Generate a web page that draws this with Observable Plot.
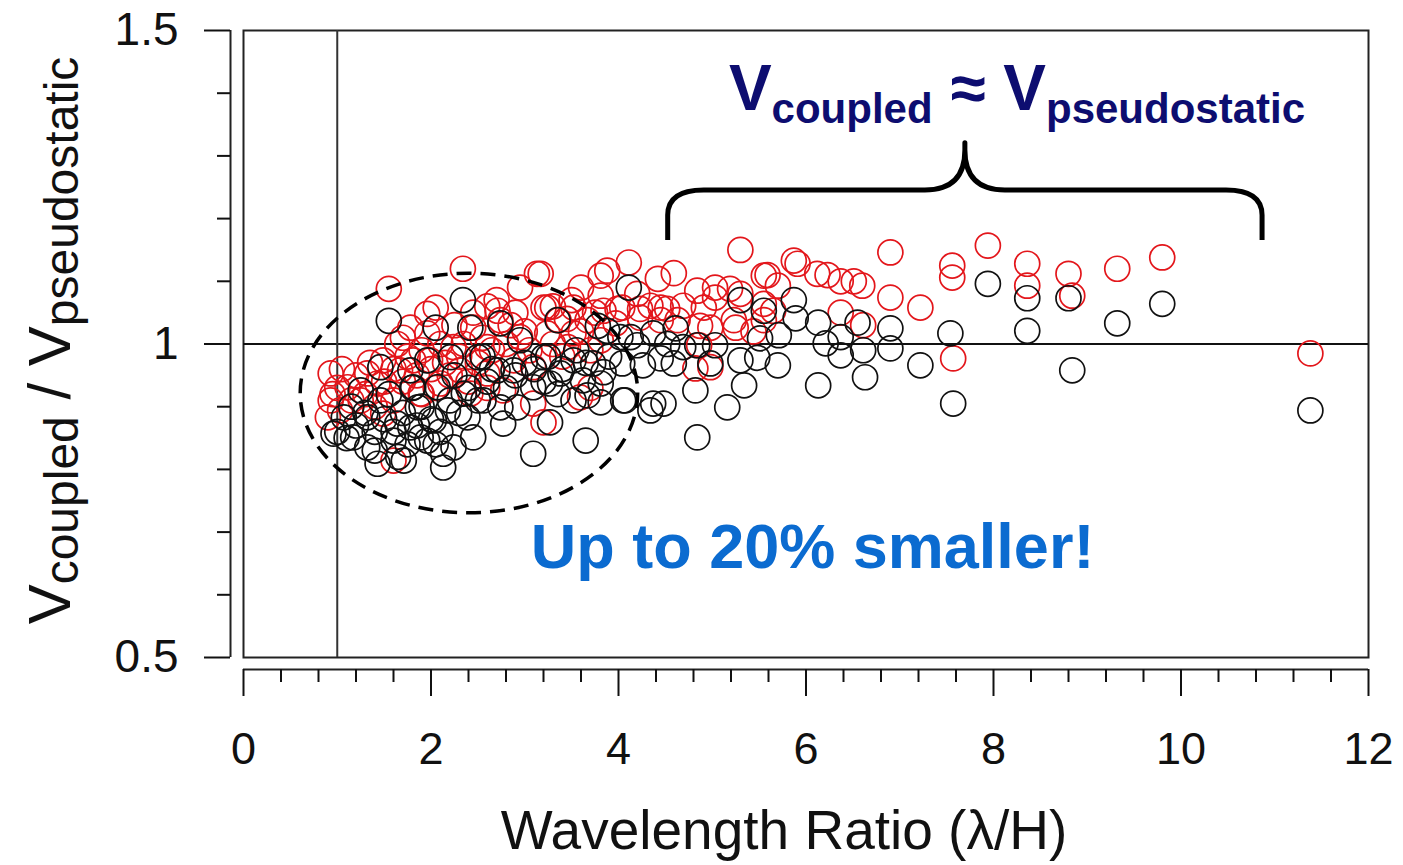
<!DOCTYPE html>
<html><head><meta charset="utf-8">
<script src="https://cdn.jsdelivr.net/npm/d3@7"></script>
<script src="https://cdn.jsdelivr.net/npm/@observablehq/plot@0.6"></script>
<style>body{margin:0;background:#fff} svg{display:block}</style>
</head><body><div id="chart"></div>
<script>
// ---------- data ----------
const redPoints = [
[0.93,0.953],[0.93,0.91],[1.11,0.931],[1.32,0.953],[1.49,0.974],[1.43,0.937],[1.25,0.91],[1.03,0.894],[1.64,1.0],[1.81,0.974],[1.78,1.026],[1.96,1.048],[1.67,0.958],[1.60,0.91],[1.49,0.889],[0.90,0.883],[1.60,0.814],[1.89,0.921],[1.55,1.088],
[2.34,1.12],[2.95,1.09],[3.13,1.112],[3.20,1.058],[2.05,1.058],[2.71,1.053],[2.74,1.038],[2.45,1.026],[2.95,1.011],[1.96,1.017],[2.24,0.995],[2.60,0.995],[2.88,0.974],[1.99,0.974],[2.31,0.958],[2.60,0.953],[3.09,0.963],[2.10,0.937],[2.42,0.921],[3.09,0.905],[3.20,0.875],[2.77,0.926],
[4.11,1.13],[3.88,1.117],[3.81,1.109],[3.17,1.112],[4.42,1.104],[4.20,1.08],[3.81,1.077],[3.52,1.058],[3.24,1.058],[4.04,1.058],[4.23,1.056],[4.45,1.038],[3.67,1.038],[3.36,1.038],[3.24,1.017],[3.52,1.017],[3.81,1.006],[3.70,0.99],[3.46,0.995],[3.97,1.033],[3.59,0.915],[3.70,0.93],
[4.59,1.113],[4.84,1.085],[5.03,1.09],[5.30,1.15],[5.30,1.08],[5.59,1.11],[5.70,1.093],[5.87,1.133],[5.91,1.128],[6.12,1.112],[6.23,1.11],[6.37,1.10],[6.51,1.10],[6.60,1.093],[6.90,1.146],[6.90,1.074],[7.22,1.058],[7.56,1.125],[7.56,1.106],[7.57,0.977],[4.69,1.061],[4.91,1.058],[5.03,1.074],[5.55,1.064],[5.65,1.053],[6.37,1.05],[6.61,1.03],[4.98,1.026],[5.25,1.026],[5.44,1.02],[4.82,0.961],[4.86,0.998],[4.45,1.058],
[4.34,1.061],[4.52,1.056],[5.19,1.088],[3.84,1.053],[3.99,1.056],[4.23,1.042],[4.63,1.038],[4.87,1.029],[5.23,1.038],[5.55,1.109],[4.98,0.963],[5.55,1.038],
[7.94,1.157],[8.36,1.128],[8.36,1.093],[8.80,1.112],[8.84,1.077],[9.32,1.12],[9.80,1.138],[11.38,0.985],
[1.6,0.96],[1.7,0.94],[1.75,0.98],[1.85,0.95],[1.9,0.99],[2.0,0.96],[2.05,0.93],[2.15,0.97],[2.2,0.95],[2.3,0.98],[2.35,1.0],[2.5,0.97],[2.55,1.01],[2.65,0.99],[2.8,1.0],[2.85,1.03],[3.0,1.02],[3.05,0.99],[3.3,1.0],[3.4,0.98],[3.45,1.04],[3.6,1.02],[3.75,1.05],[1.2,0.95],[1.3,0.92],[1.35,0.97],[1.4,0.9],[1.5,0.94],[1.15,0.91],[1.0,0.93],[0.95,0.92],[1.05,0.96],[1.9,0.92],[2.4,0.94],[2.6,0.93],[2.25,1.03],[2.45,1.05],[2.6,1.06],[2.7,1.07],[2.9,1.05],[3.5,1.07],[3.3,1.06],[3.6,1.09],[2.1,1.0],[1.7,1.01]
];
const blackPoints = [
[1.55,1.037],[1.46,0.963],[1.25,0.926],[1.46,0.91],[1.78,0.958],[1.81,0.931],[1.07,0.883],[0.96,0.857],[1.17,0.851],[1.32,0.835],[1.43,0.809],[1.64,0.873],[1.78,0.867],[1.60,0.846],[1.89,0.851],[1.71,0.814],[1.32,0.883],[1.86,0.899],
[2.34,1.07],[2.05,1.026],[2.42,1.026],[2.74,1.033],[2.95,1.006],[1.96,0.974],[2.21,0.979],[2.50,0.979],[2.71,0.958],[2.88,0.958],[3.09,0.931],[2.07,0.931],[2.35,0.921],[2.56,0.91],[2.74,0.899],[2.92,0.899],[2.18,0.894],[2.39,0.883],[2.03,0.878],[2.77,0.873],[2.45,0.851],[2.13,0.825],[1.96,0.846],[2.13,0.803],[3.09,0.825],[2.24,0.835],
[4.11,1.09],[3.35,1.038],[3.78,1.029],[4.13,1.011],[4.37,1.017],[4.45,0.977],[4.04,0.969],[4.26,0.966],[3.20,0.979],[3.52,0.974],[3.73,0.969],[3.38,0.953],[3.62,0.942],[3.81,0.937],[3.27,0.937],[3.52,0.91],[3.67,0.918],[4.05,0.91],[4.34,0.894],[3.27,0.875],[3.65,0.846],
[3.88,1.021],[4.02,1.011],[4.20,0.998],[4.61,1.025],[4.69,0.995],[3.84,0.955],[4.84,0.998],[5.03,0.998],[4.98,0.969],[5.30,1.07],[5.55,1.053],[5.87,1.07],[5.71,1.014],[5.48,0.978],[5.30,0.974],[5.34,0.934],[4.82,0.926],[5.16,0.899],[4.84,0.851],[4.07,0.910],[4.37,0.905],[3.81,0.907],
[5.89,1.041],[6.13,1.034],[6.55,1.034],[6.90,1.025],[7.54,1.017],[6.37,1.011],[6.21,1.001],[6.61,0.99],[6.90,0.993],[6.37,0.982],[7.22,0.966],[6.63,0.947],[6.13,0.934],[7.57,0.905],[4.52,1.0],[5.51,1.009],[5.70,0.966],[4.48,0.905],[4.59,0.969],
[7.94,1.096],[8.36,1.073],[8.36,1.021],[8.80,1.073],[8.84,0.958],[9.32,1.033],[9.80,1.064],[11.38,0.894],
[1.5,0.88],[1.6,0.86],[1.7,0.89],[1.75,0.84],[1.85,0.87],[1.9,0.9],[2.0,0.88],[2.1,0.86],[2.2,0.91],[2.3,0.89],[2.4,0.93],[2.5,0.91],[2.6,0.94],[2.65,0.96],[2.8,0.93],[2.9,0.95],[3.0,0.97],[3.1,0.96],[3.25,0.98],[3.4,0.96],[3.55,0.99],[3.65,0.97],[3.9,0.98],[1.15,0.9],[1.2,0.87],[1.3,0.89],[1.1,0.85],[1.0,0.86],[1.4,0.86],[1.55,0.92],[1.8,0.93],[2.25,0.95],[2.55,0.98],[3.2,0.94],[3.35,0.92],[1.4,0.83],[1.65,0.82],[2.05,0.84]
];
const xMajorTicks = [0, 2, 4, 6, 8, 10, 12];
const xMinorTicks = [0.4,0.8,1.2,1.6,2.4,2.8,3.2,3.6,4.4,4.8,5.2,5.6,6.4,6.8,7.2,7.6,8.4,8.8,9.2,9.6,10.4,10.8,11.2,11.6];
const yMajorTicks = [0.5, 1, 1.5];
const yMinorTicks = [0.6, 0.7, 0.8, 0.9, 1.1, 1.2, 1.3, 1.4];
const xTitle = "Wavelength Ratio (λ/H)";
const smallerNote = ["Up to 20% smaller!"];
// annotation geometry (data units)
const ellipseSpec = {cx: 2.41, cy: 0.921, rx: 1.80, ry: 0.191};
const braceSpec = {x1: 4.53, xTip: 7.70, x2: 10.87, yEnd: 1.165, yMid: 1.245, yTip: 1.32};
const topNote = {x: 8.256, y: 1.372};
const notePos = {x: 6.07, y: 0.675};

const FONT = "'Liberation Sans', Arial, Helvetica, sans-serif";

function ellipseMark(index, scales) {
  const {x, y} = scales;
  const cx = x(ellipseSpec.cx), cy = y(ellipseSpec.cy);
  const rx = x(ellipseSpec.cx + ellipseSpec.rx) - cx;
  const ry = cy - y(ellipseSpec.cy + ellipseSpec.ry);
  return d3.create("svg:ellipse")
    .attr("cx", cx).attr("cy", cy).attr("rx", rx).attr("ry", ry)
    .attr("fill", "none").attr("stroke", "#000").attr("stroke-width", 3.5)
    .attr("stroke-dasharray", "15,9").node();
}

function braceMark(index, scales) {
  const {x, y} = scales;
  const L = x(braceSpec.x1), T = x(braceSpec.xTip), R = x(braceSpec.x2);
  const yb = y(braceSpec.yEnd), ym = y(braceSpec.yMid), yt = y(braceSpec.yTip);
  const r = 36, t = 40;
  const d = `M${L},${yb} L${L},${ym + r * 0.7} Q${L},${ym} ${L + r},${ym} L${T - t},${ym} Q${T},${ym} ${T},${ym - t} L${T},${yt}` +
            ` L${T},${ym - t} Q${T},${ym} ${T + t},${ym} L${R - r},${ym} Q${R},${ym} ${R},${ym + r * 0.7} L${R},${yb}`;
  return d3.create("svg:path").attr("d", d).attr("fill", "none")
    .attr("stroke", "#000").attr("stroke-width", 5).attr("stroke-linejoin", "round").node();
}

function topNoteMark(index, scales) {
  const {x, y} = scales;
  const t = d3.create("svg:text")
    .attr("x", x(topNote.x)).attr("y", y(topNote.y))
    .attr("text-anchor", "middle").attr("fill", "#0d0d70")
    .attr("font-family", FONT).attr("font-weight", "bold");
  t.append("tspan").attr("font-size", 64).text("V");
  t.append("tspan").attr("font-size", 42).attr("dy", 13).text("coupled");
  t.append("tspan").attr("font-size", 64).attr("dy", -13).text(" \u2248 V");
  t.append("tspan").attr("font-size", 42).attr("dy", 13).text("pseudostatic");
  return t.node();
}

function yTitleMark(index, scales, values, dims) {
  const cy = dims.marginTop + (dims.height - dims.marginTop - dims.marginBottom) / 2;
  const t = d3.create("svg:text")
    .attr("transform", `translate(${dims.marginLeft - 173},${cy - 3}) rotate(-90)`)
    .attr("text-anchor", "middle").attr("fill", "#111")
    .attr("font-family", FONT);
  t.append("tspan").attr("font-size", 60).text("V");
  t.append("tspan").attr("font-size", 48).attr("dy", 8).text("coupled");
  t.append("tspan").attr("font-size", 60).attr("dy", -8).text(" / V");
  t.append("tspan").attr("font-size", 48).attr("dy", 8).text("pseudostatic");
  return t.node();
}

const chart = Plot.plot({
  width: 1403,
  height: 865,
  marginLeft: 243,
  marginRight: 35,
  marginTop: 30,
  marginBottom: 208,
  style: {fontFamily: FONT, color: "#111", background: "#fff"},
  x: {domain: [0, 12], label: null},
  y: {domain: [0.5, 1.5], label: null},
  marks: [
    Plot.frame({stroke: "#222", strokeWidth: 2}),
    Plot.ruleY([1], {stroke: "#111", strokeWidth: 2}),
    Plot.ruleX([1], {stroke: "#333", strokeWidth: 2}),
    // offset y axis line and ticks
    Plot.ruleX([0], {dx: -13, stroke: "#222", strokeWidth: 2}),
    Plot.axisY(yMajorTicks, {tickSize: 26, tickPadding: 26, dx: -13, fontSize: 46, strokeWidth: 2, tickFormat: d => String(d)}),
    Plot.axisY(yMinorTicks, {tickSize: 13, dx: -13, strokeWidth: 2, tickFormat: () => ""}),
    // offset x axis line and ticks
    Plot.ruleY([0.5], {dy: 12, stroke: "#222", strokeWidth: 2}),
    Plot.axisX(xMajorTicks, {tickSize: 27, tickPadding: 36, dy: 12, fontSize: 45, strokeWidth: 2, tickFormat: d => String(d)}),
    Plot.axisX(xMinorTicks, {tickSize: 13, dy: 12, strokeWidth: 2, tickFormat: () => ""}),
    // data
    Plot.dot(redPoints, {x: d => d[0], y: d => d[1], r: 12.5, stroke: "#e3161b", strokeWidth: 1.7}),
    Plot.dot(blackPoints, {x: d => d[0], y: d => d[1], r: 12.5, stroke: "#111", strokeWidth: 1.7}),
    // annotations
    ellipseMark,
    braceMark,
    topNoteMark,
    Plot.text(smallerNote, {x: () => notePos.x, y: () => notePos.y, text: d => d, fontSize: 63, fontWeight: "bold", fill: "#0b6bd0", lineAnchor: "middle"}),
    Plot.text([xTitle], {frameAnchor: "bottom", dx: -22, dy: 174, text: d => d, fontSize: 55, fill: "#111", lineAnchor: "middle"}),
    yTitleMark
  ]
});
document.getElementById("chart").appendChild(chart);
</script>
</body></html>
